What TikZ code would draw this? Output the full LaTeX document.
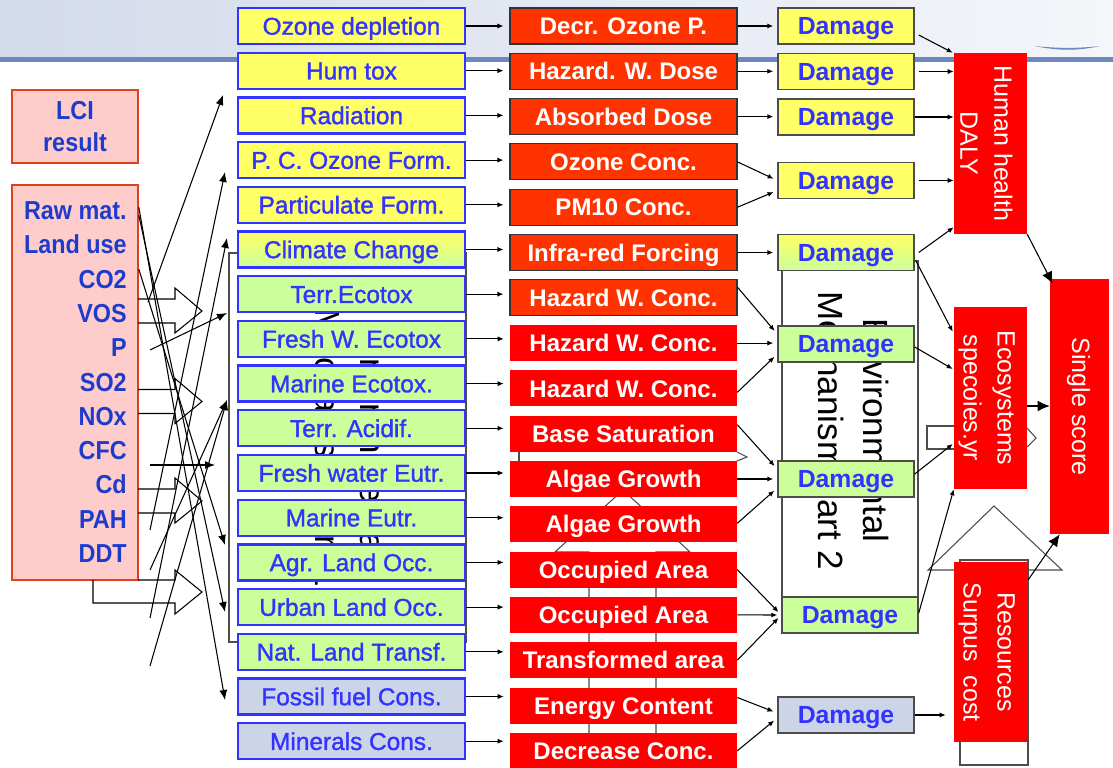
\documentclass[tikz,border=0pt]{standalone}
\usepackage{fontspec}
\setmainfont{Liberation Sans}
\newfontfamily\narrowsans[FakeStretch=0.9]{Liberation Sans}
\newfontfamily\heavysans[FakeBold=1.3]{Liberation Sans}
\usetikzlibrary{calc,arrows.meta}

\definecolor{impblue}{HTML}{3333FF}
\definecolor{lcitext}{HTML}{1E3CCC}
\definecolor{lcifill}{HTML}{FFCCCC}
\definecolor{lciedge}{HTML}{D9431E}
\definecolor{ylw}{HTML}{FFFF66}
\definecolor{grn}{HTML}{CCFF99}
\definecolor{slate}{HTML}{CCD5E8}
\definecolor{orred}{HTML}{FF3300}
\definecolor{pure}{HTML}{FF0000}
\definecolor{band}{HTML}{D3DAEA}
\definecolor{bandlight}{HTML}{F4F6FA}
\definecolor{bandline}{HTML}{6D88BE}
\definecolor{rule}{HTML}{4D4D4D}

\begin{document}
\begin{tikzpicture}[x=0.75pt,y=-0.75pt,
  imp/.style={draw=impblue,line width=1.7pt,minimum width=170.25pt,minimum height=27pt,inner sep=0pt,text height=13.1pt,text depth=0pt,text=impblue,font=\heavysans\fontsize{18.3}{20}\selectfont},
  iy/.style={imp,fill=ylw},
  ig/.style={imp,fill=grn},
  is/.style={imp,fill=slate},
  igr/.style={imp,top color=ylw,bottom color=grn},
  mbox/.style={minimum width=170.25pt,minimum height=27pt,inner sep=0pt,text height=12.9pt,text depth=0pt,text=white,font=\bfseries\fontsize{18}{20}\selectfont},
  mo/.style={mbox,fill=orred,draw=black!80,line width=0.8pt},
  mr/.style={mbox,fill=pure},
  dmg/.style={minimum width=102pt,minimum height=27pt,inner sep=0pt,text height=13.4pt,text depth=0pt,draw=black!70,line width=1.1pt,text=impblue,font=\bfseries\fontsize{18.6}{20}\selectfont},
  dy/.style={dmg,fill=ylw},
  dg/.style={dmg,fill=grn},
  ds/.style={dmg,fill=slate},
  dgr/.style={dmg,top color=ylw,bottom color=grn},
  lcibox/.style={fill=lcifill,draw=lciedge,line width=1.2pt,inner sep=0pt},
  lcitxt/.style={text=lcitext,inner sep=0pt,font=\narrowsans\bfseries\fontsize{19.5}{24}\selectfont},
  bigbox/.style={fill=pure,inner sep=0pt},
  bigtxt/.style={text=white,align=center,inner sep=0pt,font=\fontsize{18.75}{25.5}\selectfont},
  envbox/.style={draw=rule,line width=0.9pt,inner sep=0pt},
  envtxt/.style={text=black,align=center,inner sep=0pt,font=\fontsize{26.25}{33.75}\selectfont},
  wire/.style={draw=black,line width=0.8pt},
  sa/.style={wire,-{Latex[length=4.5pt,width=3.8pt]}},
  ma/.style={wire,-{Latex[length=7.5pt,width=6pt]}},
  la/.style={wire,-{Latex[length=9pt,width=8pt]}},
  outline/.style={draw=rule,line width=0.8pt},
]
\useasboundingbox (0,0) rectangle (1113,767);
\fill[white] (0,0) rectangle (1113,767);

% slide header band
\fill[left color=band,right color=bandlight] (0,0) rectangle (1113,57.5);
\fill[bandline] (0,57.5) rectangle (1113,62);
\fill[bandline] (1035,46) .. controls (1058,51) and (1078,51) .. (1100,46) .. controls (1078,48.5) and (1058,48.5) .. (1035,46);

% inventory result boxes
\node[lcibox,minimum width=94.5pt,minimum height=54.75pt] (lci) at (75,126.5) {};
\node[lcitxt,align=center] (lcit) at (lci) {LCI\\result};
\node[lcibox,minimum width=94.5pt,minimum height=296.25pt] (raw) at (75,382.5) {};
\foreach \t [count=\n] in {Raw mat.,Land use,CO2,VOS,P,SO2,NOx,CFC,Cd,PAH,DDT}
  \node[lcitxt,anchor=base east] (em\n) at (127,{219.5+34.3*(\n-1)}) {\t};

% hollow block arrows leaving the inventory box
\foreach \yc in {311,401.5,501}
  \draw[wire] (138,\yc-12) -- (175,\yc-12) -- (175,\yc-23) -- (202,\yc) -- (175,\yc+22) -- (175,\yc+12) -- (138,\yc+12);
\draw[wire] (138,580) -- (175,580) -- (175,570) -- (202,592) -- (175,614) -- (175,603) -- (93,603) -- (93,580);

% text boxes of the two environmental mechanisms (behind the columns)
\node[envbox,minimum width=177.75pt,minimum height=291.75pt] (env1) at (347.5,447.5) {};
\node[envtxt,rotate=-90] (env1t) at (env1) {Environmental\\Mechanism part 1};
\node[envbox,minimum width=102pt,minimum height=254.25pt] (env2) at (850,430.5) {};
\node[envtxt,rotate=-90] (env2t) at (env2) {Environmental\\Mechanism part 2};

% outlines partly hidden behind the midpoint column
\draw[outline] (589,780) -- (589,552) -- (555,552) -- (623,490) -- (690,552) -- (656,552) -- (656,780);
\draw[outline] (519,445) -- (519,470);
\draw[outline] (737,452) -- (747,457) -- (737,461);

% outlines partly hidden behind the endpoint boxes
\draw[outline] (927,426) rectangle (960,449);
\draw[outline] (960,560) rectangle (1028,765);
\draw[outline] (928,570) -- (994,506) -- (1062,570) -- cycle;
\draw[outline] (1027,428) -- (1036,438) -- (1027,447);

% impact categories
\node[iy]  (i0)  at (351.5,26.0)  {Ozone depletion};
\node[iy]  (i1)  at (351.5,70.7)  {Hum tox};
\node[iy]  (i2)  at (351.5,115.4) {Radiation};
\node[iy]  (i3)  at (351.5,160.1) {P. C. Ozone Form.};
\node[iy]  (i4)  at (351.5,204.8) {Particulate Form.};
\node[igr] (i5)  at (351.5,249.5) {Climate Change};
\node[ig]  (i6)  at (351.5,294.2) {Terr.Ecotox};
\node[ig]  (i7)  at (351.5,338.9) {Fresh W. Ecotox};
\node[ig]  (i8)  at (351.5,383.6) {Marine Ecotox.};
\node[ig]  (i9)  at (351.5,428.3) {Terr. Acidif.};
\node[ig]  (i10) at (351.5,473.0) {Fresh water Eutr.};
\node[ig]  (i11) at (351.5,517.7) {Marine Eutr.};
\node[ig]  (i12) at (351.5,562.4) {Agr. Land Occ.};
\node[ig]  (i13) at (351.5,607.1) {Urban Land Occ.};
\node[ig]  (i14) at (351.5,651.8) {Nat. Land Transf.};
\node[is]  (i15) at (351.5,696.5) {Fossil fuel Cons.};
\node[is]  (i16) at (351.5,741.2) {Minerals Cons.};

% midpoint indicators
\node[mo] (r0)  at (623.5,26.0)  {Decr. Ozone P.};
\node[mo] (r1)  at (623.5,71.3)  {Hazard. W. Dose};
\node[mo] (r2)  at (623.5,116.6) {Absorbed Dose};
\node[mo] (r3)  at (623.5,161.9) {Ozone Conc.};
\node[mo] (r4)  at (623.5,207.2) {PM10 Conc.};
\node[mo] (r5)  at (623.5,252.5) {Infra-red Forcing};
\node[mo] (r6)  at (623.5,297.8) {Hazard W. Conc.};
\node[mr] (r7)  at (623.5,343.1) {Hazard W. Conc.};
\node[mr] (r8)  at (623.5,388.4) {Hazard W. Conc.};
\node[mr] (r9)  at (623.5,433.7) {Base Saturation};
\node[mr] (r10) at (623.5,479.0) {Algae Growth};
\node[mr] (r11) at (623.5,524.3) {Algae Growth};
\node[mr] (r12) at (623.5,569.6) {Occupied Area};
\node[mr] (r13) at (623.5,614.9) {Occupied Area};
\node[mr] (r14) at (623.5,660.2) {Transformed area};
\node[mr] (r15) at (623.5,705.5) {Energy Content};
\node[mr] (r16) at (623.5,750.8) {Decrease Conc.};

% damage boxes
\node[dy]  (d0) at (846,26.0)  {Damage};
\node[dy]  (d1) at (846,71.5)  {Damage};
\node[dy]  (d2) at (846,117.0) {Damage};
\node[dy]  (d3) at (846,180.5) {Damage};
\node[dgr] (d4) at (846,252.5) {Damage};
\node[dg]  (d5) at (846,344.0) {Damage};
\node[dg]  (d6) at (846,479.0) {Damage};
\node[dg]  (d7) at (850,615.0) {Damage};
\node[ds]  (d8) at (846,715.0) {Damage};

% endpoints
\node[bigbox,minimum width=54.75pt,minimum height=135.75pt] (hh) at (990.5,143.5) {};
\node[bigtxt,rotate=-90] (hht) at ($(hh)+(-4,0)$) {Human health\\DALY};
\node[bigbox,minimum width=54.75pt,minimum height=136.5pt] (eco) at (990.5,398) {};
\node[bigtxt,rotate=-90] (ecot) at ($(eco)+(-4,0)$) {Ecosystems\\specoies.yr};
\node[bigbox,minimum width=54.75pt,minimum height=135pt] (res) at (990.5,652) {};
\node[bigtxt,rotate=-90] (rest) at ($(res)+(-4,0)$) {Resources\\Surpus~~cost};
\node[bigbox,minimum width=44.25pt,minimum height=191.25pt] (ss) at (1079.5,406.5) {};
\node[bigtxt,rotate=-90] (sst) at ($(ss)+(-1,0)$) {Single score};

% inventory to impact category connectors
\coordinate (hu) at (223,95);
\coordinate (hp) at (225,172);
\coordinate (hc) at (227,238);
\coordinate (ht) at (227,313);
\coordinate (hm) at (227,400);
\coordinate (hf) at (215,465);
\coordinate (ha) at (225,545);
\coordinate (hb) at (225,612);
\coordinate (hd) at (225,700);
\coordinate (f1) at (148,302);
\coordinate (f2) at (150,530);
\coordinate (f3) at (150,618);
\coordinate (f4) at (150,350);
\coordinate (f5) at (150,570);
\coordinate (f6) at (150,666);
\coordinate (f7) at (150,465);
\draw[ma] (f1) -- (hu);
\draw[ma] (f2) -- (hp);
\draw[ma] (f3) -- (hc);
\draw[ma] (f4) -- (ht);
\draw[ma] (f5) -- (hm);
\draw[ma] (f6) -- (hm);
\draw[ma] (f7) -- (hf);
\draw[ma] ($(raw.north east)+(0,23)$) -- (hd);
\draw[ma] ($(raw.north east)+(0,31)$) -- (hb);
\draw[ma] ($(raw.north east)+(0,85)$) -- (ha);

% impact category to midpoint connectors
\foreach \k in {0,...,16}
  \draw[sa,shorten >=4.5pt] (i\k.east) -- (i\k.east -| r\k.west);

% midpoint to damage connectors
\begin{scope}[shorten >=3pt]
\draw[sa] (r0.east) -- (r0.east -| d0.west);
\draw[sa] (r1.east) -- (r1.east -| d1.west);
\draw[sa] (r2.east) -- (r2.east -| d2.west);
\draw[sa] (r3.east) -- (d3.west);
\draw[sa] (r4.east) -- ($(d3.west)+(0,10)$);
\draw[sa] (r5.east) -- (r5.east -| d4.west);
\draw[sa] ($(r6.north east)+(0,8)$) -- ($(d5.west)+(0,-10)$);
\draw[sa] (r7.east) -- (r7.east -| d5.west);
\draw[sa] ($(r8.east)+(0,4)$) -- ($(d5.west)+(0,10)$);
\draw[sa] ($(r9.east)+(0,-9)$) -- ($(d6.west)+(0,-10)$);
\draw[sa] (r10.east) -- (r10.east -| d6.west);
\draw[sa] ($(r11.east)+(0,-1)$) -- ($(d6.west)+(0,9)$);
\draw[sa] (r12.east) -- (d7.west);
\draw[sa] (r13.east) -- (d7.west);
\draw[sa] (r14.east) -- (d7.west);
\draw[sa] ($(r15.east)+(0,-8)$) -- ($(d8.west)+(0,-2)$);
\draw[sa] (r16.east) -- ($(d8.west)+(0,3)$);
\end{scope}

% damage to endpoint connectors
\draw[sa] ($(d0.east)+(4,9)$) -- ($(hh.north west)+(-1,0)$);
\draw[sa] ($(d1.east)+(4,0)$) -- (d1.east -| hh.west);
\draw[sa] (d2.east) -- (d2.east -| hh.west);
\draw[sa] ($(d3.east)+(4,0)$) -- (d3.east -| hh.west);
\draw[sa] ($(d4.east)+(4,0)$) -- ($(hh.south west)+(0,-7)$);
\draw[sa] ($(d4.east)+(1,8)$) -- ($(eco.north west)+(-1,25)$);
\draw[sa] ($(d5.east)+(0,3)$) -- ($(eco.west)+(-1,-29)$);
\draw[sa] ($(d6.east)+(0,-5)$) -- ($(eco.west)+(-1,46)$);
\draw[sa] ($(d7.east)+(0,-2)$) -- (eco.south west);
\draw[sa,shorten >=6pt] (d8.east) -- (d8.east -| res.west);
\draw[la] (hh.south east) -- ($(ss.north west)+(3,5)$);
\draw[la] ($(eco.east)+(0,8)$) -- ($(eco.east -| ss.west)+(0,8)$);
\draw[la] ($(res.north east)+(1,18)$) -- ($(ss.south west)+(10,0)$);
\end{tikzpicture}
\end{document}
